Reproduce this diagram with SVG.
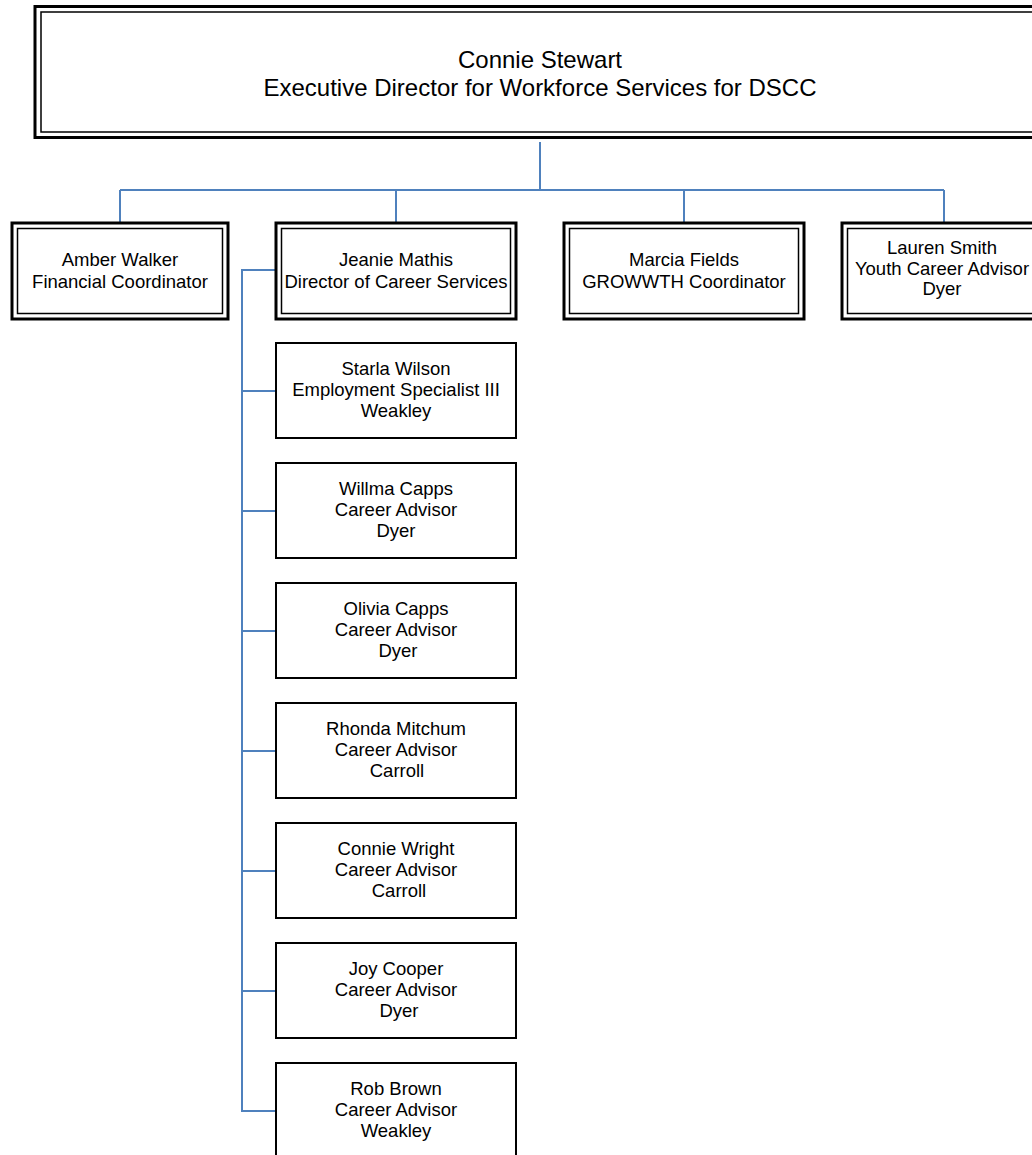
<svg xmlns="http://www.w3.org/2000/svg" width="1032" height="1155" viewBox="0 0 1032 1155">
<style>
  .outer{fill:#fff;stroke:#000;stroke-width:3}
  .inner{fill:none;stroke:#000;stroke-width:1.5}
  .box{fill:#fff;stroke:#000;stroke-width:2}
  .t{font-family:"Liberation Sans",Arial,sans-serif;font-size:18.5px;fill:#000;text-anchor:middle}
  .title{font-family:"Liberation Sans",Arial,sans-serif;font-size:24px;fill:#000;text-anchor:middle}
  .conn{fill:none;stroke:#4f81bd;stroke-width:2}
</style>
<rect width="1032" height="1155" fill="#fff"/>
<g id="connectors">
  <path class="conn" d="M540 142 V190 M120 190 H944 M120 190 V223 M396 190 V223 M684 190 V223 M944 190 V223"/>
  <path class="conn" d="M276 270 H242 V1111 H276 M242 391 H276 M242 511 H276 M242 631 H276 M242 751 H276 M242 871 H276 M242 991 H276"/>
</g>
<g id="node-connie-stewart">
  <rect class="outer" x="35" y="6.5" width="1010" height="131"/>
  <rect class="inner" x="41" y="12" width="998" height="120"/>
  <text class="title" x="540" y="68">Connie Stewart</text>
  <text class="title" x="540" y="96">Executive Director for Workforce Services for DSCC</text>
</g>
<g id="node-amber-walker">
  <rect class="outer" x="12" y="223" width="216" height="96"/>
  <rect class="inner" x="17.5" y="228.5" width="205" height="85"/>
  <text class="t" x="120" y="266">Amber Walker</text>
  <text class="t" x="120" y="287.5">Financial Coordinator</text>
</g>
<g id="node-jeanie-mathis">
  <rect class="outer" x="276" y="223" width="240" height="96"/>
  <rect class="inner" x="281.5" y="228.5" width="229" height="85"/>
  <text class="t" x="396" y="266">Jeanie Mathis</text>
  <text class="t" x="396" y="287.5">Director of Career Services</text>
</g>
<g id="node-marcia-fields">
  <rect class="outer" x="564" y="223" width="240" height="96"/>
  <rect class="inner" x="569.5" y="228.5" width="229" height="85"/>
  <text class="t" x="684" y="266">Marcia Fields</text>
  <text class="t" x="684" y="287.5">GROWWTH Coordinator</text>
</g>
<g id="node-lauren-smith">
  <rect class="outer" x="842" y="223" width="204" height="96"/>
  <rect class="inner" x="847.5" y="228.5" width="193" height="85"/>
  <text class="t" x="942" y="254">Lauren Smith</text>
  <text class="t" x="942" y="274.5">Youth Career Advisor</text>
  <text class="t" x="942" y="295">Dyer</text>
</g>
<g id="node-starla-wilson">
  <rect class="box" x="276" y="343" width="240" height="95"/>
  <text class="t" x="396" y="375">Starla Wilson</text>
  <text class="t" x="396" y="396">Employment Specialist III</text>
  <text class="t" x="396" y="417">Weakley</text>
</g>
<g id="node-willma-capps">
  <rect class="box" x="276" y="463" width="240" height="95"/>
  <text class="t" x="396" y="495">Willma Capps</text>
  <text class="t" x="396" y="516">Career Advisor</text>
  <text class="t" x="396" y="537">Dyer</text>
</g>
<g id="node-olivia-capps">
  <rect class="box" x="276" y="583" width="240" height="95"/>
  <text class="t" x="396" y="615">Olivia Capps</text>
  <text class="t" x="396" y="636">Career Advisor</text>
  <text class="t" x="398" y="657">Dyer</text>
</g>
<g id="node-rhonda-mitchum">
  <rect class="box" x="276" y="703" width="240" height="95"/>
  <text class="t" x="396" y="735">Rhonda Mitchum</text>
  <text class="t" x="396" y="756">Career Advisor</text>
  <text class="t" x="397" y="777">Carroll</text>
</g>
<g id="node-connie-wright">
  <rect class="box" x="276" y="823" width="240" height="95"/>
  <text class="t" x="396" y="855">Connie Wright</text>
  <text class="t" x="396" y="876">Career Advisor</text>
  <text class="t" x="399" y="897">Carroll</text>
</g>
<g id="node-joy-cooper">
  <rect class="box" x="276" y="943" width="240" height="95"/>
  <text class="t" x="396" y="975">Joy Cooper</text>
  <text class="t" x="396" y="996">Career Advisor</text>
  <text class="t" x="399" y="1017">Dyer</text>
</g>
<g id="node-rob-brown">
  <rect class="box" x="276" y="1063" width="240" height="95"/>
  <text class="t" x="396" y="1095">Rob Brown</text>
  <text class="t" x="396" y="1116">Career Advisor</text>
  <text class="t" x="396" y="1137">Weakley</text>
</g>
</svg>
